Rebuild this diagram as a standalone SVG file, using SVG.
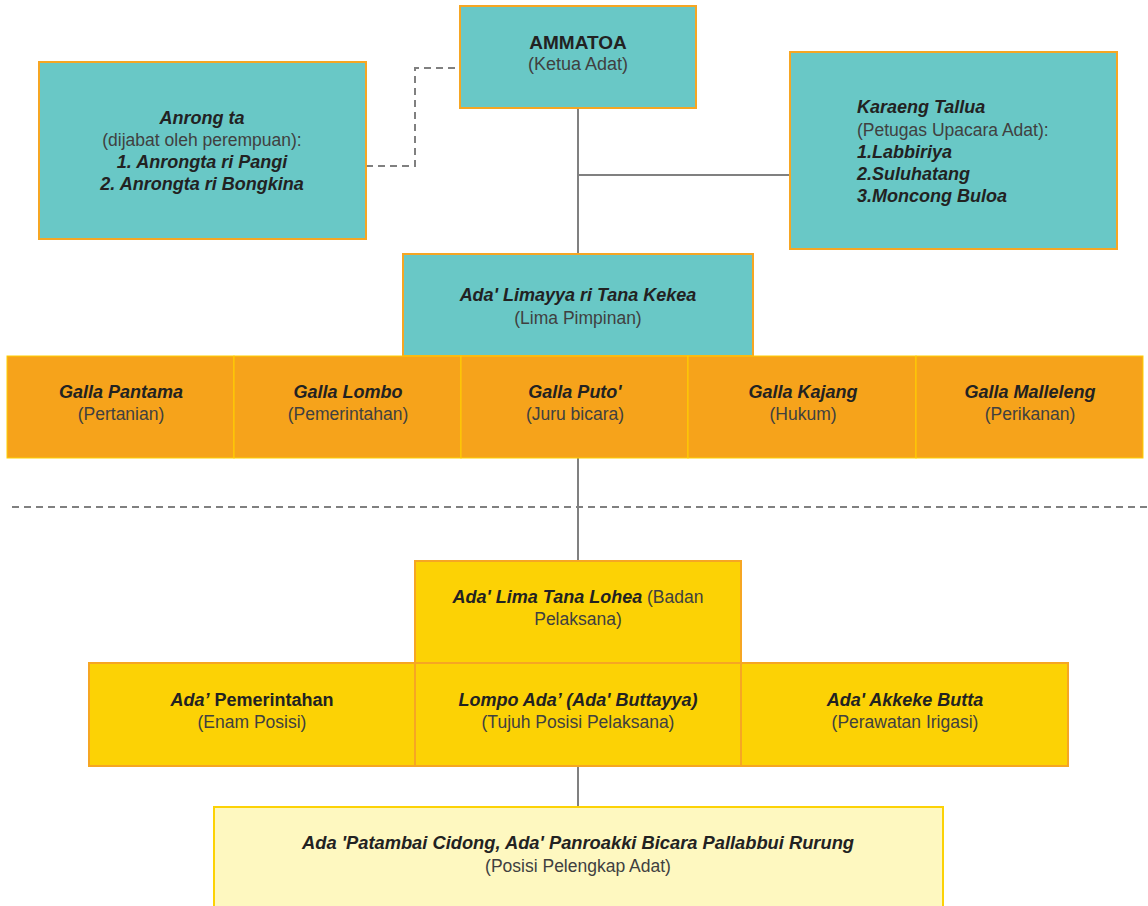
<svg xmlns="http://www.w3.org/2000/svg" width="1148" height="906" viewBox="0 0 1148 906">
  <style>
    text { font-family: "Liberation Sans", Arial, sans-serif; text-anchor: middle; }
    .t { font-size: 18px; font-weight: bold; font-style: italic; fill: #222; }
    .b { font-size: 18px; font-weight: bold; fill: #222; }
    .s { font-size: 17.5px; fill: #404040; }
    .left { text-anchor: start; }
    .teal { fill: #69C8C6; stroke: #F6A623; stroke-width: 2; }
    .galla { fill: #F6A31B; stroke: #FFD000; stroke-width: 1; }
    .gold { fill: #FCD205; stroke: #F6A623; stroke-width: 2; }
    .pale { fill: #FEF8C0; stroke: #FCD205; stroke-width: 2; }
    .line { stroke: #808080; stroke-width: 2; fill: none; }
    .dash { stroke: #808080; stroke-width: 2; fill: none; stroke-dasharray: 7 5; }
  </style>

  <!-- connectors -->
  <g id="connectors">
    <polyline class="dash" points="366,166 415,166 415,68 460,68"/>
    <line class="line" x1="578" y1="108" x2="578" y2="254"/>
    <line class="line" x1="578" y1="175" x2="790" y2="175"/>
    <line class="line" x1="578" y1="458" x2="578" y2="561"/>
    <line class="dash" x1="12" y1="507" x2="1148" y2="507"/>
    <line class="line" x1="578" y1="766" x2="578" y2="807"/>
  </g>

  <g id="ammatoa">
    <rect class="teal" x="460" y="6" width="236" height="102"/>
    <text class="b" x="578" y="49" style="font-size:19px">AMMATOA</text>
    <text class="s" x="578" y="70" style="font-size:18px">(Ketua Adat)</text>
  </g>

  <g id="anrong-ta">
    <rect class="teal" x="39" y="62" width="327" height="177"/>
    <text class="t" x="202" y="124">Anrong ta</text>
    <text class="s" x="202" y="146">(dijabat oleh perempuan):</text>
    <text class="t" x="202" y="168">1. Anrongta ri Pangi</text>
    <text class="t" x="202" y="190">2. Anrongta ri Bongkina</text>
  </g>

  <g id="karaeng-tallua">
    <rect class="teal" x="790" y="52" width="327" height="197"/>
    <text class="t left" x="857" y="113">Karaeng Tallua</text>
    <text class="s left" x="857" y="136">(Petugas Upacara Adat):</text>
    <text class="t left" x="857" y="158">1.Labbiriya</text>
    <text class="t left" x="857" y="180">2.Suluhatang</text>
    <text class="t left" x="857" y="202">3.Moncong Buloa</text>
  </g>

  <g id="ada-limayya">
    <rect class="teal" x="403" y="254" width="350" height="102"/>
    <text class="t" x="578" y="301">Ada' Limayya ri Tana Kekea</text>
    <text class="s" x="578" y="324">(Lima Pimpinan)</text>
  </g>

  <g id="galla-pantama">
    <rect class="galla" x="7" y="356" width="227" height="102"/>
    <text class="t" x="121" y="398">Galla Pantama</text>
    <text class="s" x="121" y="420">(Pertanian)</text>
  </g>
  <g id="galla-lombo">
    <rect class="galla" x="234" y="356" width="227" height="102"/>
    <text class="t" x="348" y="398">Galla Lombo</text>
    <text class="s" x="348" y="420">(Pemerintahan)</text>
  </g>
  <g id="galla-puto">
    <rect class="galla" x="461" y="356" width="227" height="102"/>
    <text class="t" x="575" y="398">Galla Puto'</text>
    <text class="s" x="575" y="420">(Juru bicara)</text>
  </g>
  <g id="galla-kajang">
    <rect class="galla" x="688" y="356" width="228" height="102"/>
    <text class="t" x="803" y="398">Galla Kajang</text>
    <text class="s" x="803" y="420">(Hukum)</text>
  </g>
  <g id="galla-malleleng">
    <rect class="galla" x="916" y="356" width="227" height="102"/>
    <text class="t" x="1030" y="398">Galla Malleleng</text>
    <text class="s" x="1030" y="420">(Perikanan)</text>
  </g>

  <g id="ada-lima-tana-lohea">
    <rect class="gold" x="415" y="561" width="326" height="102"/>
    <text x="578" y="603"><tspan class="t">Ada' Lima Tana Lohea</tspan><tspan class="s"> (Badan</tspan></text>
    <text class="s" x="578" y="625">Pelaksana)</text>
  </g>

  <g id="ada-pemerintahan">
    <rect class="gold" x="89" y="663" width="326" height="103"/>
    <text x="252" y="706"><tspan class="t">Ada’</tspan><tspan class="b"> Pemerintahan</tspan></text>
    <text class="s" x="252" y="728">(Enam Posisi)</text>
  </g>
  <g id="lompo-ada">
    <rect class="gold" x="415" y="663" width="326" height="103"/>
    <text class="t" x="578" y="706">Lompo Ada’ (Ada' Buttayya)</text>
    <text class="s" x="578" y="728">(Tujuh Posisi Pelaksana)</text>
  </g>
  <g id="ada-akkeke-butta">
    <rect class="gold" x="741" y="663" width="327" height="103"/>
    <text class="t" x="905" y="706">Ada' Akkeke Butta</text>
    <text class="s" x="905" y="728">(Perawatan Irigasi)</text>
  </g>

  <g id="posisi-pelengkap">
    <rect class="pale" x="214" y="807" width="729" height="110"/>
    <text class="t" x="578" y="849" textLength="552" lengthAdjust="spacingAndGlyphs">Ada 'Patambai Cidong, Ada' Panroakki Bicara Pallabbui Rurung</text>
    <text class="s" x="578" y="872">(Posisi Pelengkap Adat)</text>
  </g>
</svg>
